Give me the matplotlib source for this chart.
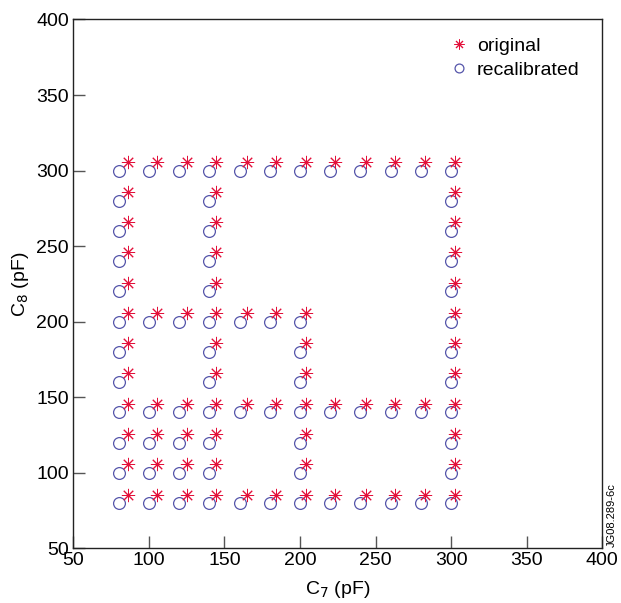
import numpy as np
import matplotlib.pyplot as plt

plt.rcParams['font.family'] = ['Liberation Sans', 'DejaVu Sans']

# recalibrated grid: row y value -> x values present in that row
rows_y = [300, 280, 260, 240, 220, 200, 180, 160, 140, 120, 100, 80]
rows_x = [
    [80, 100, 120, 140, 160, 180, 200, 220, 240, 260, 280, 300],
    [80, 140, 300],
    [80, 140, 300],
    [80, 140, 300],
    [80, 140, 300],
    [80, 100, 120, 140, 160, 180, 200, 300],
    [80, 140, 200, 300],
    [80, 140, 200, 300],
    [80, 100, 120, 140, 160, 180, 200, 220, 240, 260, 280, 300],
    [80, 100, 120, 140, 200, 300],
    [80, 100, 120, 140, 200, 300],
    [80, 100, 120, 140, 160, 180, 200, 220, 240, 260, 280, 300],
]

# original (uncalibrated) positions read per column / row
orig_col_x = {80: 86.1, 100: 105.6, 120: 125.2, 140: 144.6, 160: 164.9, 180: 184.4,
              200: 204.0, 220: 223.2, 240: 243.5, 260: 262.9, 280: 282.4, 300: 302.5}
orig_row_y = {300: 305.6, 280: 285.7, 260: 265.9, 240: 245.8, 220: 225.9, 200: 205.6,
              180: 186.0, 160: 165.7, 140: 145.8, 120: 125.5, 100: 105.6, 80: 85.4}

recal_x, recal_y, orig_x, orig_y = [], [], [], []
for y, xs in zip(rows_y, rows_x):
    for x in xs:
        recal_x.append(x)
        recal_y.append(y)
        orig_x.append(orig_col_x[x])
        orig_y.append(orig_row_y[y])

fig = plt.figure(figsize=(6.21, 6.03), dpi=100)
ax = fig.add_axes([0.118, 0.0907, 0.852, 0.877])

h_rec, = ax.plot(recal_x, recal_y, 'o', ls='none', mfc='none', mec='#5555aa',
                 mew=0.9, ms=8.5, label='recalibrated', zorder=2)
h_org, = ax.plot(orig_x, orig_y, marker=(8, 2, 0), ls='none', color='#e3103a',
                 mew=0.7, ms=9.5, label='original', zorder=3)

ax.set_xlim(50, 400)
ax.set_ylim(50, 400)
ax.set_xticks(np.arange(50, 401, 50))
ax.set_yticks(np.arange(50, 401, 50))
ax.tick_params(direction='in', length=8.5, width=1.0, color='#555555',
               labelsize=14, pad=3, top=False, right=False)
for s in ax.spines.values():
    s.set_linewidth(1.0)
    s.set_color('#222222')

ax.set_xlabel('C$_7$ (pF)', fontsize=14, labelpad=7)
ax.set_ylabel('C$_8$ (pF)', fontsize=14, labelpad=4)

leg = ax.legend(handles=[h_org, h_rec], loc='upper right', frameon=False,
                fontsize=14, handlelength=0.6, handletextpad=0.6,
                labelspacing=0.35, markerscale=0.75,
                bbox_to_anchor=(0.99, 1.0))

fig.text(0.985, 0.093, 'JG08.289-6c', rotation=90, fontsize=8,
         ha='center', va='bottom')

fig.savefig('out.png', dpi=100)
